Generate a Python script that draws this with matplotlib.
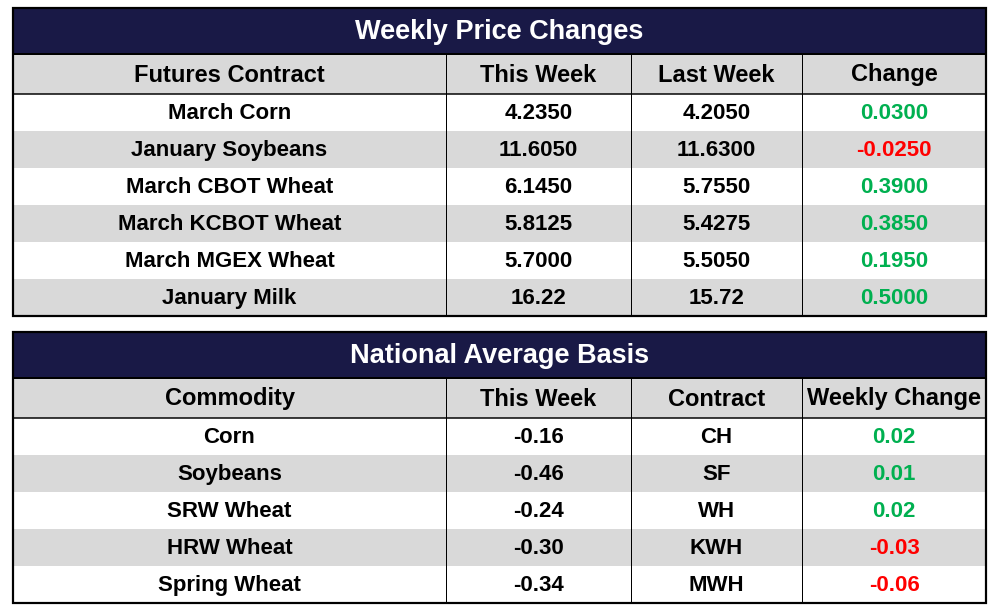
import matplotlib
matplotlib.use("Agg")
from matplotlib import pyplot as plt
from matplotlib.patches import Rectangle

# table 1 data
title1 = "Weekly Price Changes"
header1 = ["Futures Contract", "This Week", "Last Week", "Change"]
contracts = ["March Corn", "January Soybeans", "March CBOT Wheat",
             "March KCBOT Wheat", "March MGEX Wheat", "January Milk"]
this_week1 = ["4.2350", "11.6050", "6.1450", "5.8125", "5.7000", "16.22"]
last_week1 = ["4.2050", "11.6300", "5.7550", "5.4275", "5.5050", "15.72"]
change1 = ["0.0300", "-0.0250", "0.3900", "0.3850", "0.1950", "0.5000"]

# table 2 data
title2 = "National Average Basis"
header2 = ["Commodity", "This Week", "Contract", "Weekly Change"]
commodities = ["Corn", "Soybeans", "SRW Wheat", "HRW Wheat", "Spring Wheat"]
this_week2 = ["-0.16", "-0.46", "-0.24", "-0.30", "-0.34"]
contract2 = ["CH", "SF", "WH", "KWH", "MWH"]
change2 = ["0.02", "0.01", "0.02", "-0.03", "-0.06"]

NAVY = "#191946"
GRAY = "#d9d9d9"
GREEN = "#00b050"
RED = "#ff0000"
FONT = ["Liberation Sans", "DejaVu Sans"]

W, H = 1001, 616
fig = plt.figure(figsize=(W / 100, H / 100), dpi=100)
ax = fig.add_axes([0, 0, 1, 1])
ax.set_xlim(0, W)
ax.set_ylim(H, 0)
ax.axis("off")

cols = [13, 446, 631, 802, 986]
px = 0.72  # points per pixel


def draw_table(top, title, header, columns, title_h=46, head_h=40, row_h=37):
    nrows = len(columns[0])
    left, right = cols[0], cols[-1]
    y_head = top + title_h
    y_data = y_head + head_h
    bottom = y_data + nrows * row_h
    # title band
    ax.add_patch(Rectangle((left, top), right - left, title_h, color=NAVY, lw=0))
    ax.text((left + right) / 2, top + title_h / 2 + 1, title, color="white",
            fontsize=19.5, fontweight="bold", ha="center", va="center", family=FONT)
    # header band
    ax.add_patch(Rectangle((left, y_head), right - left, head_h, color=GRAY, lw=0))
    for i, h in enumerate(header):
        ax.text((cols[i] + cols[i + 1]) / 2, y_head + head_h / 2 + 1, h,
                fontsize=17, fontweight="bold", ha="center", va="center", family=FONT)
    # data rows
    for r in range(nrows):
        y = y_data + r * row_h
        if r % 2 == 1:
            ax.add_patch(Rectangle((left, y), right - left, row_h, color=GRAY, lw=0))
        for c, col in enumerate(columns):
            val = col[r]
            color = "black"
            if c == 3:
                color = RED if val.startswith("-") else GREEN
            ax.text((cols[c] + cols[c + 1]) / 2, y + row_h / 2 + 1, val, color=color,
                    fontsize=16, fontweight="bold", ha="center", va="center", family=FONT)
    # lines
    ax.plot([left, right], [y_head, y_head], color="black", lw=2 * px)
    ax.plot([left, right], [y_data, y_data], color="black", lw=1.5 * px)
    for x in cols[1:-1]:
        ax.plot([x, x], [y_head, bottom], color="black", lw=1 * px)
    ax.add_patch(Rectangle((left, top), right - left, bottom - top, fill=False,
                           edgecolor="black", lw=2.2 * px))


draw_table(8, title1, header1, [contracts, this_week1, last_week1, change1])
draw_table(332, title2, header2, [commodities, this_week2, contract2, change2])

fig.savefig("out.png", dpi=100, facecolor="white")
